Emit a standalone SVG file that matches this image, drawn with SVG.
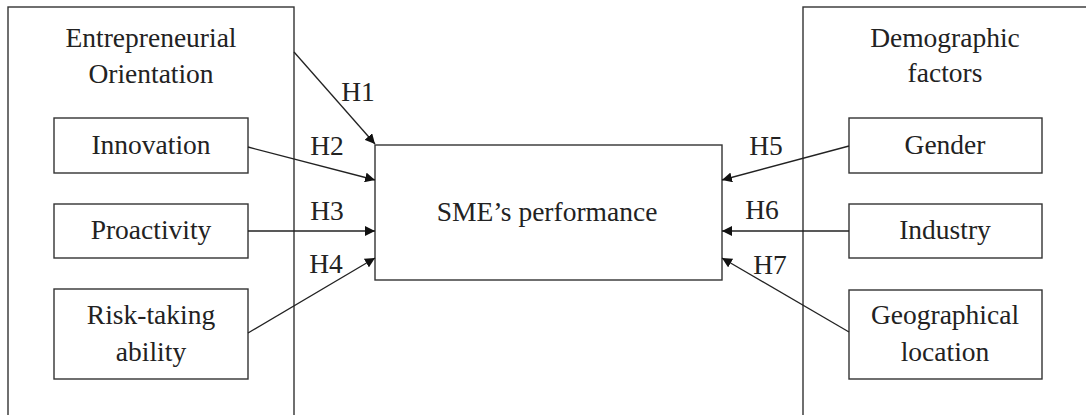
<svg xmlns="http://www.w3.org/2000/svg" width="1086" height="415" viewBox="0 0 1086 415">
<defs>
<marker id="ah" markerWidth="10" markerHeight="10" refX="10" refY="5" orient="auto" markerUnits="userSpaceOnUse" viewBox="0 0 10 10">
<path d="M0,0 L10,5 L0,10 z" fill="#111"/>
</marker>
<style>
.box{fill:#fff;stroke:#333;stroke-width:1.4}
.grp{fill:none;stroke:#333;stroke-width:1.4}
.t{font-size:27.5px;fill:#222;text-anchor:middle}
.c{fill:none;stroke:#222;stroke-width:1.3;marker-end:url(#ah)}
</style>
</defs>
<rect width="1086" height="415" fill="#fff"/>
<g font-family="'Liberation Serif', 'Times New Roman', 'DejaVu Serif', serif">
<g id="eo-group">
<rect class="grp" x="8" y="7" width="286" height="420"/>
<text class="t" x="151" y="47">Entrepreneurial</text>
<text class="t" x="151" y="83">Orientation</text>
</g>
<g id="demo-group">
<rect class="grp" x="803" y="7" width="300" height="420"/>
<text class="t" x="945" y="47">Demographic</text>
<text class="t" x="945" y="82">factors</text>
</g>
<g id="innovation">
<rect class="box" x="54" y="118" width="194" height="55"/>
<text class="t" x="151" y="154">Innovation</text>
</g>
<g id="proactivity">
<rect class="box" x="54" y="204" width="194" height="54"/>
<text class="t" x="151" y="239">Proactivity</text>
</g>
<g id="risk">
<rect class="box" x="54" y="289" width="194" height="90"/>
<text class="t" x="151" y="324">Risk-taking</text>
<text class="t" x="151" y="361">ability</text>
</g>
<g id="gender">
<rect class="box" x="849" y="118" width="193" height="55"/>
<text class="t" x="945" y="154">Gender</text>
</g>
<g id="industry">
<rect class="box" x="849" y="204" width="193" height="54"/>
<text class="t" x="945" y="239">Industry</text>
</g>
<g id="geo">
<rect class="box" x="849" y="290" width="193" height="89"/>
<text class="t" x="945" y="324">Geographical</text>
<text class="t" x="945" y="361">location</text>
</g>
<g id="sme">
<rect class="box" x="375" y="145" width="347" height="135"/>
<text class="t" x="547" y="221">SME’s performance</text>
</g>
<g id="connectors">
<line class="c" x1="294" y1="52" x2="375" y2="144"/>
<line class="c" x1="248" y1="147" x2="375" y2="180"/>
<line class="c" x1="248" y1="231" x2="375" y2="231"/>
<line class="c" x1="248" y1="333" x2="375" y2="258"/>
<line class="c" x1="849" y1="146" x2="722" y2="180"/>
<line class="c" x1="849" y1="231" x2="722" y2="231"/>
<line class="c" x1="849" y1="332" x2="722" y2="258"/>
<text class="t" x="358" y="101">H1</text>
<text class="t" x="327" y="155">H2</text>
<text class="t" x="327" y="220">H3</text>
<text class="t" x="326" y="273">H4</text>
<text class="t" x="766" y="155">H5</text>
<text class="t" x="762" y="219">H6</text>
<text class="t" x="770" y="274">H7</text>
</g>
</g>
</svg>
